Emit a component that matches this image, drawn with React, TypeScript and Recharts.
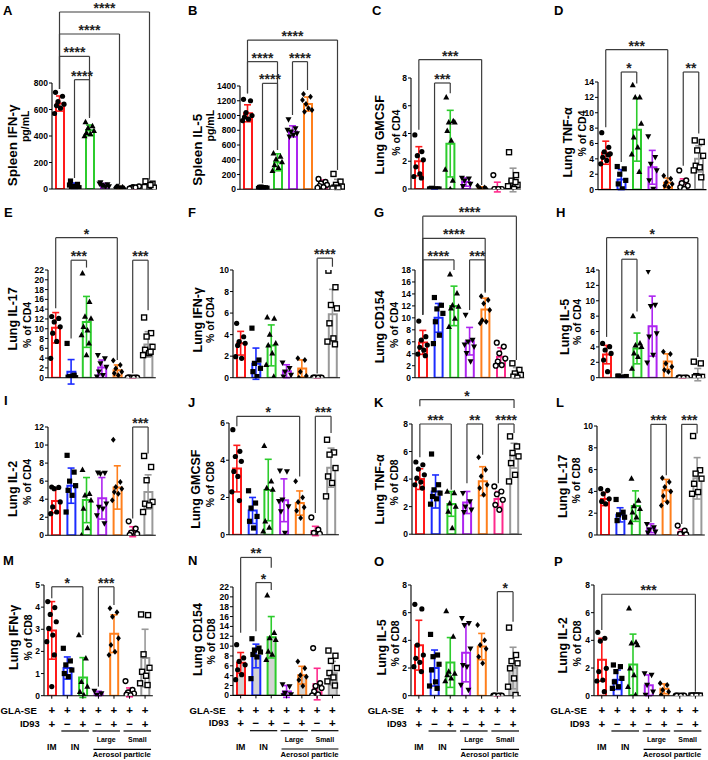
import React from 'react';
import { ComposedChart, Bar, Cell, Scatter, ErrorBar, XAxis, YAxis, ReferenceLine } from 'recharts';

const FONT = '"Liberation Sans", Arial, Helvetica, sans-serif';
const COLORS = ['#ff1a1a', '#1c2cff', '#2ccc2c', '#ad24f0', '#ff7f1c', '#ff2a8c', '#999999'];
const MARKERS = ['circle', 'square', 'triangle', 'invtriangle', 'diamond', 'ocircle', 'osquare'];
const JIT = [-4, 3, -1.5, 4.5, -3, 1, -5, 2.5, 0];

// categories
const GROUPS = ['IM GLA-SE+ID93', 'IN GLA-SE', 'IN GLA-SE+ID93', 'Large GLA-SE', 'Large GLA-SE+ID93', 'Small GLA-SE', 'Small GLA-SE+ID93'];
const GLA_ROW = ['+', '+', '+', '+', '+', '+', '+'];
const ID93_ROW = ['+', '\u2212', '+', '\u2212', '+', '\u2212', '+'];

type Sig = { a: number; b: number; y: number; ya: number; yb: number; t: string };

// ---------- A ----------
const A_ticks = [0, 200, 400, 600, 800];
const A_mean = [645, 25, 443, 30, 12, 10, 22];
const A_sd = [57, 20, 40, 12, 7, 6, 22];
const A_pts = [
  [730, 700, 660, 640, 630, 610, 570],
  [60, 35, 20, 10, 5, 15, 30],
  [505, 475, 460, 440, 425, 415, 400],
  [50, 35, 25, 20, 30, 15, 40],
  [10, 15, 20, 5, 18, 8],
  [5, 10, 15, 20, 8, 12, 3],
  [58, 40, 20, 10, 5, 30, 15],
];
const A_sig: Sig[] = [
  { a: 0, b: 6, y: 1336, ya: 755, yb: 70, t: '****' },
  { a: 0, b: 4, y: 1170, ya: 755, yb: 33, t: '****' },
  { a: 0, b: 2, y: 1001, ya: 755, yb: 548, t: '****' },
  { a: 1, b: 2, y: 825, ya: 83, yb: 536, t: '****' },
];
// ---------- B ----------
const B_ticks = [0, 200, 400, 600, 800, 1000, 1200, 1400];
const B_mean = [1030, 20, 366, 785, 1155, 70, 65];
const B_sd = [115, 10, 115, 75, 95, 55, 70];
const B_pts = [
  [1220, 1200, 1040, 1000, 980, 950, 930],
  [10, 20, 30, 15, 25, 22],
  [488, 443, 406, 370, 330, 290, 250],
  [948, 826, 781, 758, 713, 736, 804],
  [1291, 1255, 1156, 1075, 1052, 1097, 1210],
  [140, 100, 80, 60, 45, 30, 20],
  [208, 104, 60, 36, 23, 14, 10],
];
const B_sig: Sig[] = [
  { a: 0, b: 6, y: 2023, ya: 1300, yb: 262, t: '****' },
  { a: 0, b: 2, y: 1730, ya: 1300, yb: 533, t: '****' },
  { a: 1, b: 2, y: 1436, ya: 81, yb: 533, t: '****' },
  { a: 3, b: 4, y: 1730, ya: 1007, yb: 1346, t: '****' },
];
// ---------- C ----------
const C_ticks = [0, 2, 4, 6, 8];
const C_mean = [2.0, 0.03, 3.27, 0.5, 0.1, 0.14, 0.65];
const C_sd = [1.05, 0.03, 2.4, 0.3, 0.06, 0.35, 0.85];
const C_pts = [
  [3.9, 2.7, 2.4, 2.1, 1.6, 1.1, 0.9, 0.8],
  [0, 0, 0, 0, 0.05, 0, 0],
  [6.6, 4.9, 4.8, 4.8, 4.2, 3.5, 1.4, 0.6, 0],
  [0.8, 0.75, 0.6, 0.36, 0.2],
  [0.24, 0.1, 0.05, 0.02],
  [1.0, 0, 0, 0, 0, 0],
  [2.65, 1.0, 0.6, 0.3, 0.1, 0, 0.2, 0.5],
];
const C_sig: Sig[] = [
  { a: 0, b: 4, y: 9.33, ya: 4.27, yb: 0.29, t: '***' },
  { a: 1, b: 2, y: 7.64, ya: 0.15, yb: 6.9, t: '***' },
];
// ---------- D ----------
const D_ticks = [0, 2, 4, 6, 8, 10, 12, 14];
const D_mean = [4.8, 1.3, 7.8, 2.9, 0.9, 0.8, 4.0];
const D_sd = [1.5, 1.3, 4.1, 2.2, 0.6, 0.6, 1.7];
const D_pts = [
  [7.4, 5.5, 4.9, 4.65, 4.2, 3.8, 3.35, 4.5],
  [3.0, 2.7, 2.0, 1.2, 0.74, 0.1],
  [13.6, 12.0, 12.0, 8.6, 6.8, 5.5, 4.6, 2.3],
  [6.9, 4.2, 3.35, 2.5, 1.2, 0.1],
  [1.8, 1.4, 0.96, 0.74, 0.5, 0.3],
  [2.5, 1.2, 0.83, 0.5, 0.3, 0.1],
  [6.4, 6.2, 5.1, 4.4, 3.1, 2.9, 2.5, 1.6],
];
const D_sig: Sig[] = [
  { a: 0, b: 4, y: 18.2, ya: 8.1, yb: 1.4, t: '***' },
  { a: 1, b: 2, y: 15.3, ya: 3.6, yb: 13.8, t: '*' },
  { a: 5, b: 6, y: 15.3, ya: 3.1, yb: 7.3, t: '**' },
];
// ---------- E ----------
const E_ticks = [0, 2, 4, 6, 8, 10, 12, 14, 16, 18, 20, 22];
const E_mean = [10.2, 1.2, 11.4, 2.1, 1.5, 0.05, 6.8];
const E_sd = [3.1, 2.5, 5.2, 1.5, 1.1, 0.05, 2.6];
const E_pts = [
  [12.5, 12.1, 11.4, 10.4, 9.1, 7.4, 3.95],
  [7.0, 0.5, 0.2, 0, 0.1, 0.3],
  [21.3, 15.5, 12.5, 12.1, 10.4, 9.7, 8.7, 7.0, 4.6],
  [4.6, 3.95, 2.9, 2.2, 1.2, 0.5, 0.2],
  [3.5, 2.6, 1.9, 1.2, 0.9, 0.5],
  [0, 0, 0, 0, 0, 0, 0],
  [12.3, 9.1, 8.4, 6.3, 5.7, 5.0, 4.6, 5.3],
];
const E_sig: Sig[] = [
  { a: 0, b: 4, y: 28.6, ya: 14.2, yb: 3.6, t: '*' },
  { a: 1, b: 2, y: 24.0, ya: 8.0, yb: 22.5, t: '***' },
  { a: 5, b: 6, y: 24.0, ya: 0.9, yb: 13.8, t: '***' },
];
// ---------- F ----------
const F_ticks = [0, 2, 4, 6, 8, 10];
const F_mean = [3.2, 1.3, 3.0, 0.6, 0.85, 0.02, 5.9];
const F_sd = [1.1, 1.45, 1.9, 0.6, 0.8, 0.02, 2.3];
const F_pts = [
  [5.05, 3.8, 3.35, 3.2, 3.0, 1.8, 1.95],
  [4.6, 1.64, 1.33, 0.87, 0.56, 0.1],
  [5.6, 5.5, 4.0, 3.2, 3.0, 2.26, 1.2, 0.1],
  [1.4, 0.87, 0.56, 0.25, 0.1],
  [1.8, 1.64, 0.56, 0.15, 0],
  [0, 0, 0, 0, 0, 0],
  [9.94, 8.4, 6.75, 6.44, 5.05, 3.65, 3.35, 3.1],
];
const F_sig: Sig[] = [{ a: 5, b: 6, y: 11.1, ya: 0.4, yb: 10.3, t: '****' }];
// ---------- G ----------
const G_ticks = [0, 2, 4, 6, 8, 10, 12, 14, 16, 18];
const G_mean = [5.9, 10.0, 12.0, 6.1, 11.4, 3.5, 0.8];
const G_sd = [2.0, 2.4, 3.3, 2.3, 1.9, 1.5, 0.9];
const G_pts = [
  [9.47, 6.85, 6.3, 5.46, 5.07, 4.6, 3.95, 3.68],
  [13.4, 12.1, 11.5, 10.75, 9.35, 7.1, 5.7],
  [17.3, 14.1, 12.1, 11.9, 11.6, 9.9, 8.5],
  [10.5, 6.3, 6.0, 5.2, 4.1, 2.7, 5.5],
  [13.6, 13.0, 12.4, 11.3, 9.6, 9.35, 9.1],
  [5.85, 5.2, 4.07, 3.2, 2.7, 2.1, 2.0],
  [2.4, 1.3, 0.7, 0.45, 0.17, 0],
];
const G_sig: Sig[] = [
  { a: 0, b: 6, y: 27.0, ya: 10.5, yb: 2.95, t: '****' },
  { a: 0, b: 4, y: 23.3, ya: 10.5, yb: 14.2, t: '****' },
  { a: 0, b: 2, y: 19.7, ya: 10.5, yb: 18.0, t: '****' },
  { a: 3, b: 4, y: 19.7, ya: 11.3, yb: 14.4, t: '***' },
];
// ---------- H ----------
const H_ticks = [0, 2, 4, 6, 8, 10, 12, 14];
const H_mean = [3.0, 0.15, 3.8, 6.7, 2.1, 0.03, 0.4];
const H_sd = [1.2, 0.1, 2.0, 3.9, 1.0, 0.03, 0.8];
const H_pts = [
  [4.46, 4.03, 3.6, 3.16, 2.3, 0.78],
  [0.2, 0.1, 0.05, 0.15, 0.2],
  [8.0, 4.46, 4.2, 4.03, 3.16, 2.73, 1.2],
  [13.8, 9.45, 9.3, 5.76, 5.33, 2.95, 1.95],
  [3.38, 3.08, 1.86, 1.43, 1.0, 0.78],
  [0, 0, 0, 0, 0, 0],
  [2.08, 1.86, 0.2, 0.1, 0.05, 0],
];
const H_sig: Sig[] = [
  { a: 0, b: 6, y: 18.2, ya: 5.3, yb: 2.7, t: '*' },
  { a: 1, b: 2, y: 15.4, ya: 0.56, yb: 8.6, t: '**' },
];
// ---------- I ----------
const I_ticks = [0, 2, 4, 6, 8, 10, 12];
const I_mean = [3.8, 5.5, 3.9, 4.1, 5.3, 0.4, 4.8];
const I_sd = [1.3, 1.95, 2.5, 2.3, 2.4, 0.55, 1.9];
const I_pts = [
  [5.35, 5.3, 5.17, 3.7, 3.14, 2.58, 2.4],
  [8.86, 7.0, 6.0, 5.5, 4.98, 4.43, 2.58],
  [7.27, 4.6, 4.43, 3.88, 2.95, 0.81, 0],
  [6.94, 6.9, 6.83, 3.5, 3.14, 2.95, 2.2, 1.3],
  [10.6, 5.9, 5.35, 5.17, 4.8, 4.6, 3.88],
  [1.55, 0.74, 0.3, 0.15, 0.05],
  [8.79, 7.57, 6.1, 3.7, 3.5, 3.32, 2.58],
];
const I_sig: Sig[] = [{ a: 5, b: 6, y: 12.0, ya: 1.85, yb: 9.05, t: '***' }];
// ---------- J ----------
const J_ticks = [0, 2, 4, 6];
const J_mean = [3.55, 1.3, 2.4, 1.85, 1.7, 0.2, 3.6];
const J_sd = [1.25, 0.7, 1.65, 1.15, 0.65, 0.25, 1.05];
const J_pts = [
  [5.64, 4.48, 4.2, 3.94, 3.4, 3.13, 2.3, 1.83],
  [2.36, 1.7, 1.43, 0.98, 0.72, 0.36],
  [4.78, 2.87, 2.5, 2.42, 0.72, 0.39, 0.18],
  [3.44, 3.4, 1.88, 1.52, 1.25, 0.09, 1.8],
  [2.87, 2.0, 1.76, 1.47, 1.29, 0.9],
  [0.93, 0.27, 0.1, 0.05],
  [5.1, 4.42, 4.3, 3.58, 3.13, 2.78, 2.06],
];
const J_sig: Sig[] = [
  { a: 0, b: 4, y: 6.36, ya: 5.82, yb: 3.13, t: '*' },
  { a: 5, b: 6, y: 6.36, ya: 1.16, yb: 5.46, t: '***' },
];
// ---------- K ----------
const K_ticks = [0, 2, 4, 6, 8];
const K_mean = [4.0, 3.1, 2.2, 2.3, 3.85, 2.55, 5.7];
const K_sd = [0.75, 1.2, 0.9, 0.8, 1.05, 0.55, 0.9];
const K_pts = [
  [5.24, 5.04, 4.73, 4.31, 4.07, 3.78, 3.59, 3.35],
  [5.82, 3.59, 3.22, 2.98, 2.74, 2.57, 2.18],
  [3.1, 2.98, 2.25, 2.0, 1.65, 0.44],
  [2.98, 2.37, 2.0, 1.77, 1.6],
  [5.58, 4.68, 4.2, 3.59, 3.35, 2.86],
  [3.47, 3.1, 2.9, 2.5, 2.13, 1.77],
  [7.1, 6.37, 5.9, 5.65, 5.16, 4.31, 3.83],
];
const K_sig: Sig[] = [
  { a: 0, b: 6, y: 9.77, ya: 9.28, yb: 9.16, t: '*' },
  { a: 0, b: 2, y: 8.0, ya: 5.58, yb: 3.22, t: '***' },
  { a: 3, b: 4, y: 8.0, ya: 3.7, yb: 5.77, t: '**' },
  { a: 5, b: 6, y: 8.0, ya: 3.7, yb: 7.34, t: '****' },
];
// ---------- L ----------
const L_ticks = [0, 2, 4, 6, 8, 10];
const L_mean = [3.3, 1.85, 2.65, 0.62, 4.1, 0.25, 5.2];
const L_sd = [0.6, 0.65, 1.4, 0.4, 1.0, 0.25, 1.9];
const L_pts = [
  [4.25, 4.1, 3.78, 3.32, 3.08, 2.86],
  [3.26, 2.09, 1.85, 1.63, 1.32],
  [5.17, 3.17, 2.65, 2.4, 2.09, 1.63, 1.17],
  [1.0, 0.7, 0.49, 0.3, 0.2],
  [5.23, 4.86, 4.4, 4.0, 3.57, 3.0, 2.7],
  [0.86, 0.4, 0.1, 0.05],
  [9.08, 5.94, 5.63, 5.17, 4.7, 3.94, 3.78],
];
const L_sig: Sig[] = [
  { a: 3, b: 4, y: 10.15, ya: 1.17, yb: 5.48, t: '***' },
  { a: 5, b: 6, y: 10.15, ya: 1.0, yb: 9.32, t: '***' },
];
// ---------- M ----------
const M_ticks = [0, 1, 2, 3, 4, 5];
const M_mean = [2.95, 1.25, 0.82, 0.1, 2.8, 0.15, 1.7];
const M_sd = [1.3, 0.5, 0.9, 0.1, 0.85, 0.2, 1.3];
const M_pts = [
  [4.25, 3.98, 3.67, 3.34, 3.04, 2.74, 2.44, 1.84, 0.41],
  [2.14, 1.57, 1.39, 1.16, 1.0, 0.86],
  [2.74, 1.69, 0.63, 0.41, 0.18, 0.03],
  [0.21, 0.1, 0.03],
  [3.95, 3.77, 3.57, 2.59, 2.29, 1.99, 1.84],
  [0.66, 0.26, 0.15, 0.1, 0.05, 0.02],
  [3.67, 3.64, 1.87, 1.26, 1.08, 0.9, 0.56, 0.48],
];
const M_sig: Sig[] = [
  { a: 0, b: 2, y: 4.92, ya: 4.4, yb: 2.74, t: '*' },
  { a: 3, b: 4, y: 4.92, ya: 0.41, yb: 4.1, t: '***' },
];
// ---------- N ----------
const N_ticks = [0, 2, 4, 6, 8, 10, 12, 14, 16, 18, 20, 22];
const N_mean = [6.6, 8.0, 11.8, 0.8, 4.1, 2.3, 4.5];
const N_sd = [2.1, 2.4, 4.2, 1.2, 1.8, 3.2, 2.4];
const N_pts = [
  [10.3, 7.6, 6.9, 6.2, 5.2, 4.2, 3.2],
  [11.5, 9.6, 9.2, 8.8, 8.3, 7.8, 3.4],
  [20.3, 12.7, 11.65, 11.3, 8.9, 8.3, 7.2],
  [2.2, 1.8, 0.5, 0.2, 0],
  [6.9, 5.5, 4.1, 3.8, 3.1, 1.9],
  [9.6, 2.5, 1.9, 1.5, 0.8, 0.2, 0],
  [9.1, 8.05, 7.0, 5.55, 4.55, 3.65, 2.85, 2.0],
];
const N_sig: Sig[] = [
  { a: 0, b: 2, y: 28.0, ya: 12.7, yb: 25.9, t: '**' },
  { a: 1, b: 2, y: 22.9, ya: 13.0, yb: 21.4, t: '*' },
];
// ---------- O ----------
const O_ticks = [0, 2, 4, 6, 8];
const O_mean = [3.65, 2.0, 2.4, 3.1, 3.55, 0.03, 2.0];
const O_sd = [1.8, 1.3, 1.8, 2.1, 0.95, 0.03, 1.5];
const O_pts = [
  [6.6, 6.27, 3.66, 2.94, 2.7, 2.41, 2.1, 1.74],
  [4.43, 2.94, 2.82, 2.27, 1.86, 1.0, 0.7, 0.53],
  [6.12, 4.27, 1.74, 1.6, 1.5, 1.25, 1.06],
  [5.6, 5.23, 5.1, 3.4, 2.2, 2.1, 0.77, 0.41],
  [5.1, 4.0, 3.66, 3.4, 2.82, 2.34],
  [0, 0, 0, 0, 0, 0],
  [4.92, 2.94, 2.5, 2.34, 1.98, 1.25, 0.65, 0.05],
];
const O_sig: Sig[] = [{ a: 5, b: 6, y: 7.52, ya: 0.29, yb: 5.35, t: '*' }];
// ---------- P ----------
const P_ticks = [0, 2, 4, 6, 8];
const P_mean = [2.6, 1.15, 2.25, 0.75, 0.5, 0, 0];
const P_sd = [1.55, 0.7, 2.2, 0.75, 0.35, 0, 0];
const P_pts = [
  [4.58, 4.15, 3.95, 1.98, 1.74, 1.13, 1.06, 0.29],
  [2.22, 2.1, 1.74, 1.25, 1.0, 0.65, 0.53],
  [6.31, 3.86, 3.78, 3.66, 1.98, 1.5, 0.65, 0.05],
  [1.6, 1.5, 0.77, 0.29, 0.05],
  [0.9, 0.77, 0.41, 0.29, 0.05],
  [0, 0, 0, 0, 0, 0],
  [0, 0, 0, 0, 0, 0],
];
const P_sig: Sig[] = [{ a: 0, b: 6, y: 7.33, ya: 4.75, yb: 0.29, t: '***' }];

const TITLES: Record<string, [string, string]> = {
  A: ['Spleen IFN-\u03b3', 'pg/mL'],
  B: ['Spleen IL-5', 'pg/mL'],
  C: ['Lung GMCSF', '% of CD4'],
  D: ['Lung TNF-\u03b1', '% of CD4'],
  E: ['Lung IL-17', '% of CD4'],
  F: ['Lung IFN-\u03b3', '% of CD4'],
  G: ['Lung CD154', '% of CD4'],
  H: ['Lung IL-5', '% of CD4'],
  I: ['Lung IL-2', '% of CD4'],
  J: ['Lung GMCSF', '% of CD8'],
  K: ['Lung TNF-\u03b1', '% of CD8'],
  L: ['Lung IL-17', '% of CD8'],
  M: ['Lung IFN-\u03b3', '% of CD8'],
  N: ['Lung CD154', '% of CD8'],
  O: ['Lung IL-5', '% of CD8'],
  P: ['Lung IL-2', '% of CD8'],
};

type PanelData = { mean: number[]; sd: number[]; pts: number[][]; sig: Sig[]; ticks: number[] };
const DATA: Record<string, PanelData> = {
  A: { mean: A_mean, sd: A_sd, pts: A_pts, sig: A_sig, ticks: A_ticks },
  B: { mean: B_mean, sd: B_sd, pts: B_pts, sig: B_sig, ticks: B_ticks },
  C: { mean: C_mean, sd: C_sd, pts: C_pts, sig: C_sig, ticks: C_ticks },
  D: { mean: D_mean, sd: D_sd, pts: D_pts, sig: D_sig, ticks: D_ticks },
  E: { mean: E_mean, sd: E_sd, pts: E_pts, sig: E_sig, ticks: E_ticks },
  F: { mean: F_mean, sd: F_sd, pts: F_pts, sig: F_sig, ticks: F_ticks },
  G: { mean: G_mean, sd: G_sd, pts: G_pts, sig: G_sig, ticks: G_ticks },
  H: { mean: H_mean, sd: H_sd, pts: H_pts, sig: H_sig, ticks: H_ticks },
  I: { mean: I_mean, sd: I_sd, pts: I_pts, sig: I_sig, ticks: I_ticks },
  J: { mean: J_mean, sd: J_sd, pts: J_pts, sig: J_sig, ticks: J_ticks },
  K: { mean: K_mean, sd: K_sd, pts: K_pts, sig: K_sig, ticks: K_ticks },
  L: { mean: L_mean, sd: L_sd, pts: L_pts, sig: L_sig, ticks: L_ticks },
  M: { mean: M_mean, sd: M_sd, pts: M_pts, sig: M_sig, ticks: M_ticks },
  N: { mean: N_mean, sd: N_sd, pts: N_pts, sig: N_sig, ticks: N_ticks },
  O: { mean: O_mean, sd: O_sd, pts: O_pts, sig: O_sig, ticks: O_ticks },
  P: { mean: P_mean, sd: P_sd, pts: P_pts, sig: P_sig, ticks: P_ticks },
};

// ---------- layout (positions / styles) ----------
type Lay = {
  id: string; left: number; band: number; top: number; bottom: number;
  d1: number; d2: number; o1: number; o2: number; f1: number; lx: number; ly: number;
  bottomRow?: boolean; fills?: string[];
};
const W7 = ['#fff', '#fff', '#fff', '#fff', '#fff', '#fff', '#fff'];
const GREY = '#d3d3d3';
const LAYOUT: Lay[] = [
  { id: 'A', left: 51.5, band: 15, top: 83.3, bottom: 189.3, d1: 39.5, d2: 27, o1: 9, o2: -10, f1: 13.5, lx: 3, ly: 15 },
  { id: 'B', left: 239.5, band: 15, top: 86, bottom: 189.3, d1: 42.5, d2: 30, o1: 12, o2: -12, f1: 13.5, lx: 188, ly: 15 },
  { id: 'C', left: 411, band: 15.7, top: 78.3, bottom: 189.3, d1: 31, d2: 15, o1: 1, o2: -1, f1: 12.5, lx: 372, ly: 15 },
  { id: 'D', left: 598, band: 15.5, top: 81.7, bottom: 189.3, d1: 30, d2: 15.7, o1: 7, o2: -2, f1: 12.5, lx: 554, ly: 15 },
  { id: 'E', left: 48.3, band: 15.4, top: 270, bottom: 377.7, d1: 35, d2: 21, o1: -5, o2: 1, f1: 12.5, lx: 4, ly: 217 },
  { id: 'F', left: 233, band: 15.3, top: 270, bottom: 377.7, d1: 35.5, d2: 23, o1: -4, o2: -4, f1: 12.5, lx: 188, ly: 217 },
  { id: 'G', left: 414.5, band: 15.6, top: 270, bottom: 377.7, d1: 34.5, d2: 20.5, o1: 3, o2: 1, f1: 12.5, lx: 374, ly: 217 },
  { id: 'H', left: 598.7, band: 15.2, top: 270, bottom: 377.7, d1: 33.7, d2: 21.4, o1: 3, o2: -2, f1: 12.5, lx: 556, ly: 217 },
  { id: 'I', left: 48.3, band: 15.4, top: 426.7, bottom: 535, d1: 35, d2: 21.3, o1: 8, o2: 1, f1: 12.5, lx: 4, ly: 405 },
  { id: 'J', left: 228.9, band: 15.7, top: 423.3, bottom: 535, d1: 33, d2: 19, o1: 10, o2: 5, f1: 12.5, lx: 188, ly: 406.5 },
  { id: 'K', left: 411.8, band: 15.7, top: 424.3, bottom: 534.5, d1: 31.8, d2: 17.8, o1: 10, o2: 3, f1: 12.5, lx: 374, ly: 406.5 },
  { id: 'L', left: 597, band: 15.4, top: 426, bottom: 535, d1: 34, d2: 21.5, o1: 6, o2: 0, f1: 12.5, lx: 556, ly: 406.5 },
  { id: 'M', left: 43.9, band: 15.55, top: 585, bottom: 695.7, d1: 30, d2: 16.4, o1: -3, o2: -3, f1: 12.5, lx: 3, ly: 565, bottomRow: true },
  { id: 'N', left: 233, band: 15.3, top: 587.3, bottom: 695.7, d1: 35.5, d2: 22, o1: -2, o2: 0, f1: 12.5, lx: 188, ly: 565, bottomRow: true, fills: [GREY, GREY, GREY, GREY, GREY, GREY, GREY] },
  { id: 'O', left: 411, band: 15.7, top: 585, bottom: 695.7, d1: 29.5, d2: 16, o1: 7, o2: 3, f1: 12.5, lx: 374, ly: 566, bottomRow: true, fills: ['#fff', '#fff', '#fff', '#fff', '#fff', '#fff', GREY] },
  { id: 'P', left: 594, band: 15.6, top: 585, bottom: 695.7, d1: 31, d2: 17.5, o1: 5, o2: 3, f1: 12.5, lx: 554, ly: 566, bottomRow: true },
];

function Marker({ kind, cx, cy, k }: { kind: string; cx: number; cy: number; k: number }) {
  if (cx == null || cy == null || isNaN(cx) || isNaN(cy)) return <g />;
  const x = cx + JIT[k % JIT.length];
  const y = cy;
  switch (kind) {
    case 'circle':
      return <circle cx={x} cy={y} r={2.6} fill="#000" />;
    case 'square':
      return <rect x={x - 2.6} y={y - 2.6} width={5.2} height={5.2} fill="#000" />;
    case 'triangle':
      return <polygon points={`${x},${y - 3.3} ${x + 3},${y + 2.2} ${x - 3},${y + 2.2}`} fill="#000" />;
    case 'invtriangle':
      return <polygon points={`${x - 3},${y - 2.2} ${x + 3},${y - 2.2} ${x},${y + 3.3}`} fill="#000" />;
    case 'diamond':
      return <polygon points={`${x},${y - 3} ${x + 2.4},${y} ${x},${y + 3} ${x - 2.4},${y}`} fill="#000" />;
    case 'ocircle':
      return <circle cx={x} cy={y} r={2.4} fill="#fff" stroke="#000" strokeWidth={1.4} />;
    default:
      return <rect x={x - 2.5} y={y - 2.5} width={5} height={5} fill="#fff" stroke="#000" strokeWidth={1.4} />;
  }
}

function BottomTick(props: any) {
  const { x, y, payload, band } = props;
  const i = Number(payload.value);
  const Y0 = y - 5;
  const b = { fontWeight: 700, fill: '#000', fontFamily: FONT } as any;
  const out: any[] = [];
  out.push(<text key="g" x={x} y={Y0 + 18.4} textAnchor="middle" fontSize={11.5} {...b}>{GLA_ROW[i]}</text>);
  out.push(<text key="i" x={x} y={Y0 + 32.0} textAnchor="middle" fontSize={11.5} {...b}>{ID93_ROW[i]}</text>);
  if (i === 0) {
    out.push(<text key="gl" x={x - 15} y={Y0 + 18.3} textAnchor="end" fontSize={9.6} {...b}>GLA-SE</text>);
    out.push(<text key="il" x={x - 12} y={Y0 + 31} textAnchor="end" fontSize={9.4} {...b}>ID93</text>);
    out.push(<text key="im" x={x} y={Y0 + 54.8} textAnchor="middle" fontSize={8.5} {...b}>IM</text>);
  }
  if (i === 1 || i === 3 || i === 5) {
    out.push(<line key="ul" x1={x - 6} x2={x + band + 6} y1={Y0 + 35.3} y2={Y0 + 35.3} stroke="#000" strokeWidth={1.2} />);
  }
  if (i === 1) out.push(<text key="in" x={x + band / 2} y={Y0 + 54.8} textAnchor="middle" fontSize={8.5} {...b}>IN</text>);
  if (i === 3) {
    out.push(<text key="lg" x={x + band / 2} y={Y0 + 46.6} textAnchor="middle" fontSize={7} {...b}>Large</text>);
    out.push(<line key="al" x1={x - 5} x2={x + 3 * band + 6} y1={Y0 + 53.6} y2={Y0 + 53.6} stroke="#000" strokeWidth={1.2} />);
    out.push(<text key="ap" x={x + 1.5 * band} y={Y0 + 61.5} textAnchor="middle" fontSize={7.7} {...b}>Aerosol particle</text>);
  }
  if (i === 5) out.push(<text key="sm" x={x + band / 2} y={Y0 + 46.6} textAnchor="middle" fontSize={7} {...b}>Small</text>);
  return <g>{out}</g>;
}

const SIG_STROKE = '#3c3c3c';

function Panel({ L }: { L: Lay }) {
  const D = DATA[L.id];
  const YW = 62, MT = 92, MR = 10;
  const XH = L.bottomRow ? 68 : 8;
  const plotW = L.band * 7;
  const plotH = L.bottom - L.top;
  const W = YW + plotW + MR;
  const H = MT + plotH + XH;
  const max = D.ticks[D.ticks.length - 1];
  const fills = L.fills || W7;
  const barData = D.mean.map((m, i) => ({ x: i, m, name: GROUPS[i] }));
  const xt = [0, 1, 2, 3, 4, 5, 6];
  const lines: any[] = [];
  D.sig.forEach((s, j) => {
    lines.push(<ReferenceLine key={'sl' + j} segment={[{ x: s.a, y: s.ya }, { x: s.a, y: s.y }]} stroke={SIG_STROKE} strokeWidth={1.2} ifOverflow="visible" />);
    lines.push(<ReferenceLine key={'sr' + j} segment={[{ x: s.b, y: s.yb }, { x: s.b, y: s.y }]} stroke={SIG_STROKE} strokeWidth={1.2} ifOverflow="visible" />);
    lines.push(
      <ReferenceLine key={'st' + j} segment={[{ x: s.a, y: s.y }, { x: s.b, y: s.y }]} stroke={SIG_STROKE} strokeWidth={1.2} ifOverflow="visible"
        label={{ value: s.t, position: 'top', offset: -1, fontSize: 14, fontWeight: 700, fill: '#222', fontFamily: FONT }} />
    );
  });
  return (
    <div style={{ position: 'absolute', left: L.left - YW, top: L.top - MT, width: W, height: H }}>
      <ComposedChart width={W} height={H} data={barData} margin={{ top: MT, right: MR, bottom: 0, left: 0 }} barSize={8}>
        <XAxis type="number" dataKey="x" domain={[-0.5, 6.5]} ticks={xt} interval={0} allowDataOverflow
          height={XH} tickSize={3} tickMargin={2}
          axisLine={{ stroke: '#000', strokeWidth: 1.1 }} tickLine={{ stroke: '#000', strokeWidth: 1 }}
          tick={L.bottomRow ? (p: any) => <BottomTick {...p} band={L.band} /> : false} />
        <YAxis type="number" domain={[0, max]} ticks={D.ticks} interval={0} allowDataOverflow width={YW}
          tickSize={3} tickMargin={1}
          axisLine={{ stroke: '#000', strokeWidth: 1.1 }} tickLine={{ stroke: '#000', strokeWidth: 1 }}
          tick={{ fontSize: 8.5, fontWeight: 700, fill: '#000', fontFamily: FONT }} />
        <Bar dataKey="m" isAnimationActive={false} strokeWidth={2}>
          {D.mean.map((_, i) => (
            <Cell key={'c' + i} stroke={COLORS[i]} fill={fills[i]} />
          ))}
        </Bar>
        {D.mean.map((m, i) => (
          <Scatter key={'e' + i} data={[{ x: i, y: m, e: D.sd[i] }]} dataKey="y" isAnimationActive={false} shape={() => <g />}>
            <ErrorBar dataKey="e" direction="y" width={3.5} stroke={COLORS[i]} strokeWidth={1.6} />
          </Scatter>
        ))}
        {D.pts.map((arr, i) => (
          <Scatter key={'p' + i} data={arr.map((v, k) => ({ x: i, y: v, k }))} dataKey="y" isAnimationActive={false}
            shape={(p: any) => <Marker kind={MARKERS[i]} cx={p.cx} cy={p.cy} k={(p.payload && p.payload.k) ?? p.k ?? 0} />} />
        ))}
        {lines}
      </ComposedChart>
    </div>
  );
}

export default function App() {
  return (
    <div style={{ position: 'absolute', left: 0, top: 0, width: 708, height: 760, overflow: 'hidden', background: '#fff', fontFamily: FONT }}>
      {LAYOUT.map((L) => (
        <Panel key={L.id} L={L} />
      ))}
      <svg width={708} height={760} style={{ position: 'absolute', left: 0, top: 0, pointerEvents: 'none' }}>
        {LAYOUT.map((L) => {
          const cy = (L.top + L.bottom) / 2;
          const t = TITLES[L.id];
          const x1 = L.left - L.d1, y1 = cy + L.o1;
          const x2 = L.left - L.d2, y2 = cy + L.o2;
          return (
            <g key={'t' + L.id} fontFamily={FONT} fontWeight={700} fill="#000">
              <text x={L.lx} y={L.ly} fontSize={13}>{L.id}</text>
              <text transform={`translate(${x1},${y1}) rotate(-90)`} textAnchor="middle" dominantBaseline="central" fontSize={L.f1}>{t[0]}</text>
              <text transform={`translate(${x2},${y2}) rotate(-90)`} textAnchor="middle" dominantBaseline="central" fontSize={10.5}>{t[1]}</text>
            </g>
          );
        })}
      </svg>
    </div>
  );
}
